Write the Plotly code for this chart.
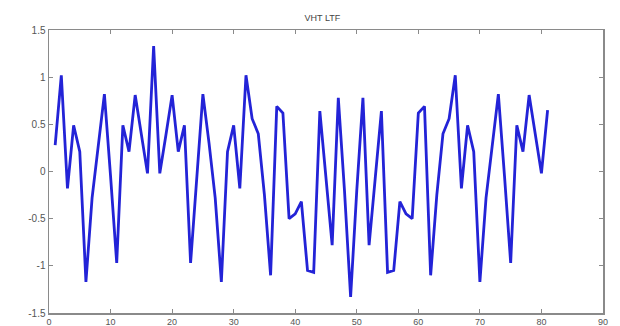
import plotly.graph_objects as go

sample_index = list(range(1, 82))
vht_ltf = [
    0.28, 1.02, -0.18, 0.49, 0.21, -1.17, -0.28, 0.30, 0.82, -0.05,
    -0.97, 0.49, 0.21, 0.81, 0.39, -0.02, 1.33, -0.02, 0.39, 0.81,
    0.21, 0.49, -0.97, -0.05, 0.82, 0.30, -0.28, -1.17, 0.21, 0.49,
    -0.18, 1.02, 0.56, 0.40, -0.25, -1.10, 0.69, 0.62, -0.50, -0.45,
    -0.32, -1.05, -1.07, 0.64, -0.07, -0.78, 0.78, -0.20, -1.33, -0.20,
    0.78, -0.78, -0.07, 0.64, -1.07, -1.05, -0.32, -0.45, -0.50, 0.62,
    0.69, -1.10, -0.25, 0.40, 0.56, 1.02, -0.18, 0.49, 0.21, -1.17,
    -0.28, 0.30, 0.82, -0.05, -0.97, 0.49, 0.21, 0.81, 0.39, -0.02,
    0.65,
]
x_ticks = [0, 10, 20, 30, 40, 50, 60, 70, 80, 90]
y_ticks = [-1.5, -1, -0.5, 0, 0.5, 1, 1.5]
y_tick_text = ["-1.5", "-1", "-0.5", "0", "0.5", "1", "1.5"]

fig = go.Figure()
fig.add_trace(go.Scatter(
    x=sample_index, y=vht_ltf, mode="lines",
    line=dict(color="rgb(35,35,215)", width=2.8),
    hoverinfo="skip",
))

axis_common = dict(
    showline=True, linecolor="#8a8a8a", linewidth=1.5,
    mirror="ticks", ticks="inside", ticklen=4, tickcolor="#8a8a8a",
    showgrid=False, zeroline=False, automargin=False,
)
label_font = "Liberation Sans, Arial, sans-serif"

fig.update_layout(
    width=620, height=326,
    margin=dict(l=49, r=17, t=30, b=13),
    paper_bgcolor="white", plot_bgcolor="white",
    showlegend=False,
    title=dict(
        text="VHT LTF", x=0.52, xanchor="center", y=0.945, yanchor="middle",
        font=dict(family=label_font, size=9, color="#444444"),
    ),
    xaxis=dict(range=[0, 90], tickvals=x_ticks, ticklabelstandoff=0,
               tickfont=dict(family=label_font, size=9, color="#555555"), **axis_common),
    yaxis=dict(range=[-1.5, 1.5], tickvals=y_ticks, ticktext=y_tick_text,
               tickfont=dict(family=label_font, size=10, color="#555555"), **axis_common),
)

fig.write_html(
    "out.html",
    config={"displayModeBar": False, "staticPlot": True},
    post_script="document.body.style.margin='0';document.body.style.overflow='hidden';",
)
